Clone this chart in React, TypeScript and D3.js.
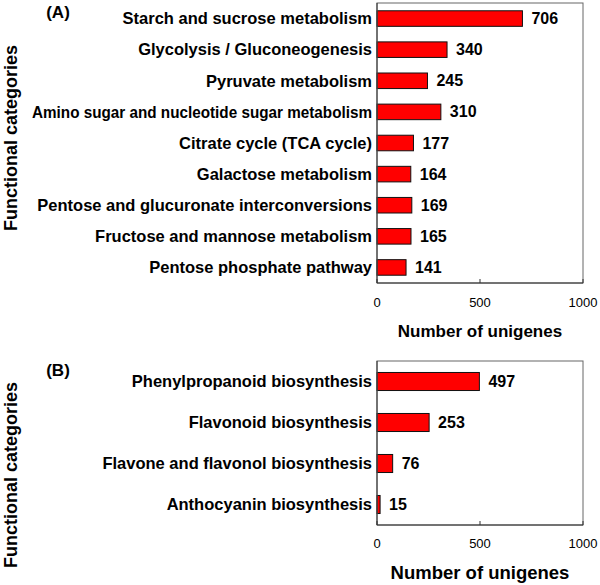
import React, { useLayoutEffect, useRef } from "react";
import * as d3 from "d3";

const categoriesA = [
  "Starch and sucrose metabolism",
  "Glycolysis / Gluconeogenesis",
  "Pyruvate metabolism",
  "Amino sugar and nucleotide sugar metabolism",
  "Citrate cycle (TCA cycle)",
  "Galactose metabolism",
  "Pentose and glucuronate interconversions",
  "Fructose and mannose metabolism",
  "Pentose phosphate pathway",
];
const valuesA = [706, 340, 245, 310, 177, 164, 169, 165, 141];

const categoriesB = [
  "Phenylpropanoid biosynthesis",
  "Flavonoid biosynthesis",
  "Flavone and flavonol biosynthesis",
  "Anthocyanin biosynthesis",
];
const valuesB = [497, 253, 76, 15];

const xTicks = [0, 500, 1000];
const xTitle = "Number of unigenes";
const yTitle = "Functional categories";

const FONT = "Arial, 'Liberation Sans', Helvetica, sans-serif";
const LABEL_MAX_W = 340;

type PanelProps = {
  label: string;
  cats: string[];
  vals: number[];
  top: number;
  bottom: number;
  padding: number;
  tickLabelY: number;
  titleY: number;
  titleSize: number;
  yTitleY: number;
};

function FitText(props: any) {
  const ref = useRef<SVGTextElement>(null);
  const { maxW, children, ...rest } = props;
  useLayoutEffect(() => {
    const el = ref.current;
    if (!el) return;
    el.removeAttribute("textLength");
    const w = el.getComputedTextLength();
    if (w > maxW) {
      el.setAttribute("textLength", String(maxW));
      el.setAttribute("lengthAdjust", "spacingAndGlyphs");
    }
  });
  return <text ref={ref} {...rest}>{children}</text>;
}

function Panel({ label, cats, vals, top, bottom, padding, tickLabelY, titleY, titleSize, yTitleY }: PanelProps) {
  const left = 377;
  const right = 583;
  const x = d3.scaleLinear().domain([0, 1000]).range([left, right]);
  const y = d3.scaleBand<string>().domain(cats).range([top, bottom]).paddingInner(padding).paddingOuter(padding / 2);
  return (
    <g>
      <text x={58} y={top + 15} fontFamily={FONT} fontWeight="bold" fontSize={17} textAnchor="middle">{label}</text>
      <FitText
        maxW={212}
        transform={`translate(17,${yTitleY}) rotate(-90)`}
        fontFamily={FONT}
        fontWeight="bold"
        fontSize={18}
        textAnchor="middle"
      >{yTitle}</FitText>
      {cats.map((c, i) => {
        const yc = (y(c) as number) + y.bandwidth() / 2;
        return (
          <g key={c}>
            <rect
              x={x(0)}
              y={y(c)}
              width={x(vals[i]) - x(0)}
              height={y.bandwidth()}
              fill="#ff0000"
              stroke="#111"
              strokeWidth={1}
            />
            <FitText maxW={LABEL_MAX_W} x={left - 5} y={yc} dy="0.35em" textAnchor="end" fontFamily={FONT} fontWeight="bold" fontSize={16.5}>{c}</FitText>
            <text x={x(vals[i]) + 9} y={yc} dy="0.35em" fontFamily={FONT} fontWeight="bold" fontSize={16}>{vals[i]}</text>
          </g>
        );
      })}
      <rect x={left} y={top} width={right - left} height={bottom - top} fill="none" stroke="#666" strokeWidth={1} />
      <line x1={left} x2={left} y1={top} y2={bottom} stroke="#333" />
      <line x1={left} x2={right} y1={bottom} y2={bottom} stroke="#333" />
      {xTicks.map((t) => (
        <g key={t}>
          <line x1={x(t)} x2={x(t)} y1={bottom} y2={bottom - 4} stroke="#333" />
          <text x={x(t)} y={tickLabelY} dy="0.35em" textAnchor="middle" fontFamily={FONT} fontSize={13}>{t}</text>
        </g>
      ))}
      <text x={(left + right) / 2} y={titleY} dy="0.35em" textAnchor="middle" fontFamily={FONT} fontWeight="bold" fontSize={titleSize}>{xTitle}</text>
    </g>
  );
}

export default function App() {
  return (
    <svg width={600} height={585} style={{ position: "absolute", left: 0, top: 0, background: "#fff" }}>
      <rect width={600} height={585} fill="#fff" />
      <Panel label="(A)" cats={categoriesA} vals={valuesA} top={3} bottom={283} padding={0.5}
        tickLabelY={302} titleY={331} titleSize={17} yTitleY={138} />
      <Panel label="(B)" cats={categoriesB} vals={valuesB} top={361} bottom={525} padding={0.56}
        tickLabelY={543} titleY={573} titleSize={18.5} yTitleY={475} />
    </svg>
  );
}
